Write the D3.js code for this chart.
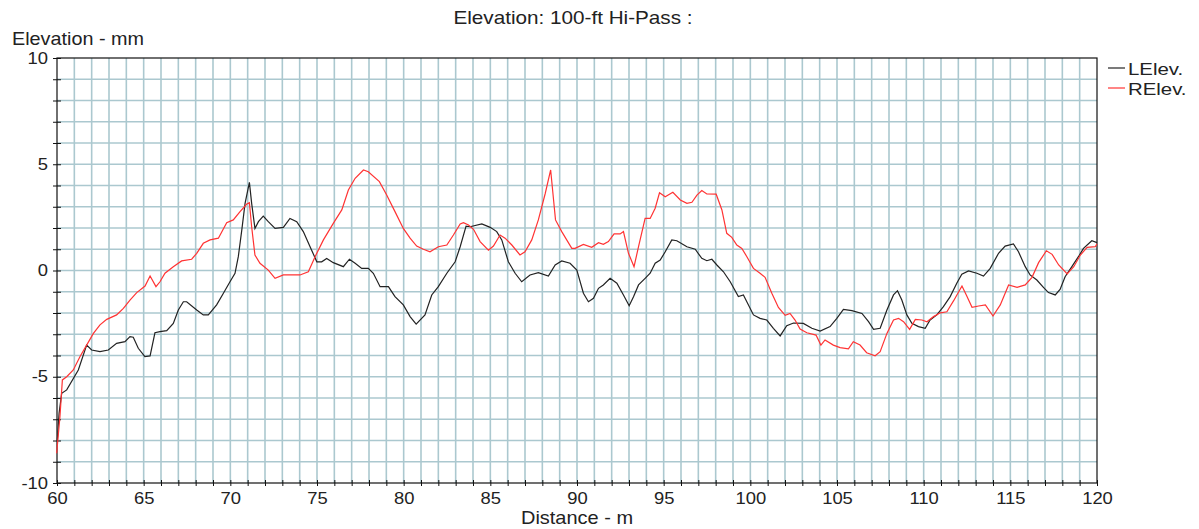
<!DOCTYPE html>
<html>
<head>
<meta charset="utf-8">
<script src="https://cdn.jsdelivr.net/npm/d3@7"></script>
<style>
    body { margin: 0; background: #fff; }
    text { font-family: "Liberation Sans", Arial, sans-serif; fill: #222; }
</style>
</head>
<body>
<script>
// LElev series
const leftDist = [60.0, 60.02, 60.12, 60.27, 60.56, 61.23, 61.71, 62.0, 62.48, 62.96, 63.44, 63.92, 64.21, 64.4, 64.69, 65.07, 65.37, 65.65, 65.94, 66.33, 66.71, 67.0, 67.29, 67.48, 68.06, 68.44, 68.73, 69.21, 69.6, 69.98, 70.27, 70.46, 70.66, 70.85, 71.1, 71.23, 71.42, 71.62, 71.9, 72.19, 72.58, 73.06, 73.44, 73.83, 74.21, 74.6, 74.99, 75.27, 75.56, 75.94, 76.52, 76.87, 77.2, 77.58, 77.96, 78.25, 78.64, 79.12, 79.5, 79.98, 80.37, 80.72, 81.23, 81.62, 82.0, 82.49, 82.97, 83.26, 83.6, 83.83, 84.51, 84.99, 85.37, 85.66, 86.04, 86.43, 86.81, 87.29, 87.77, 88.35, 88.74, 89.12, 89.6, 89.99, 90.37, 90.66, 90.95, 91.24, 91.52, 91.91, 92.3, 92.68, 93.01, 93.26, 93.55, 93.93, 94.22, 94.51, 94.8, 95.09, 95.47, 95.76, 96.34, 96.82, 97.2, 97.49, 97.78, 98.07, 98.45, 98.84, 99.31, 99.6, 100.18, 100.56, 100.95, 101.33, 101.72, 102.1, 102.49, 103.06, 103.55, 104.03, 104.6, 104.99, 105.37, 105.86, 106.44, 106.82, 107.11, 107.49, 107.88, 108.26, 108.49, 108.74, 109.03, 109.32, 109.7, 110.09, 110.37, 110.76, 111.14, 111.53, 111.91, 112.2, 112.59, 113.07, 113.45, 113.84, 114.32, 114.7, 115.18, 115.47, 115.86, 116.14, 116.53, 116.91, 117.2, 117.59, 117.87, 118.16, 118.55, 118.93, 119.22, 119.7, 120.0];
const leftElev = [-8.0, -7.98, -6.72, -5.78, -5.62, -4.68, -3.51, -3.74, -3.82, -3.74, -3.43, -3.35, -3.11, -3.14, -3.66, -4.05, -4.02, -2.93, -2.88, -2.83, -2.49, -1.86, -1.47, -1.47, -1.86, -2.09, -2.09, -1.62, -1.07, -0.53, -0.13, 0.65, 1.9, 3.16, 4.15, 3.16, 1.98, 2.3, 2.56, 2.3, 1.98, 2.03, 2.45, 2.3, 1.83, 1.12, 0.41, 0.41, 0.57, 0.37, 0.18, 0.53, 0.34, 0.1, 0.1, -0.13, -0.76, -0.76, -1.23, -1.62, -2.17, -2.52, -2.09, -1.15, -0.76, -0.13, 0.41, 1.12, 2.09, 2.06, 2.19, 2.03, 1.83, 1.44, 0.41, -0.13, -0.53, -0.21, -0.1, -0.26, 0.26, 0.45, 0.34, 0.02, -1.07, -1.47, -1.31, -0.84, -0.68, -0.37, -0.6, -1.15, -1.66, -1.23, -0.68, -0.37, -0.13, 0.34, 0.49, 0.88, 1.44, 1.4, 1.12, 1.0, 0.57, 0.46, 0.53, 0.26, -0.06, -0.53, -1.23, -1.15, -2.09, -2.25, -2.33, -2.72, -3.08, -2.6, -2.47, -2.49, -2.72, -2.85, -2.64, -2.25, -1.83, -1.89, -2.02, -2.41, -2.77, -2.72, -1.86, -1.15, -0.95, -1.39, -2.09, -2.49, -2.64, -2.72, -2.33, -2.09, -1.7, -1.23, -0.6, -0.17, -0.02, -0.13, -0.26, 0.1, 0.81, 1.15, 1.25, 0.88, 0.18, -0.21, -0.45, -0.79, -1.04, -1.15, -0.89, -0.29, 0.18, 0.65, 1.04, 1.4, 1.31];

// RElev series
const rightDist = [59.98, 60.17, 60.31, 60.56, 60.94, 61.33, 61.71, 62.1, 62.48, 62.87, 63.44, 63.83, 64.21, 64.6, 65.08, 65.37, 65.71, 65.94, 66.23, 66.71, 67.19, 67.77, 68.06, 68.44, 68.83, 69.31, 69.79, 70.17, 70.56, 70.95, 71.1, 71.23, 71.42, 71.71, 72.19, 72.58, 73.06, 74.02, 74.5, 74.89, 75.37, 75.94, 76.43, 76.81, 77.2, 77.68, 77.96, 78.6, 79.02, 79.5, 79.98, 80.37, 80.75, 81.14, 81.52, 82.0, 82.49, 82.87, 83.26, 83.45, 83.74, 84.03, 84.41, 84.89, 85.18, 85.56, 85.85, 86.24, 86.71, 87.0, 87.39, 87.77, 88.16, 88.48, 88.76, 89.12, 89.7, 89.89, 90.37, 90.85, 91.24, 91.52, 91.81, 92.14, 92.49, 92.68, 92.97, 93.29, 93.55, 93.93, 94.22, 94.51, 94.76, 95.09, 95.53, 95.96, 96.34, 96.63, 96.92, 97.2, 97.49, 98.03, 98.36, 98.64, 98.93, 99.22, 99.51, 99.8, 100.18, 100.56, 100.85, 101.24, 101.62, 102.01, 102.29, 102.58, 102.87, 103.26, 103.79, 104.07, 104.31, 104.79, 105.18, 105.66, 105.94, 106.33, 106.71, 107.2, 107.49, 107.88, 108.26, 108.55, 108.84, 109.19, 109.52, 109.9, 110.19, 110.57, 110.96, 111.34, 111.73, 112.21, 112.46, 112.79, 113.17, 113.56, 114.0, 114.42, 114.9, 115.39, 115.86, 116.25, 116.63, 117.08, 117.41, 117.79, 118.28, 118.66, 119.04, 119.43, 119.9, 120.0];
const rightElev = [-8.6, -6.88, -5.15, -5.0, -4.68, -4.05, -3.51, -2.96, -2.56, -2.3, -2.09, -1.78, -1.39, -1.04, -0.73, -0.26, -0.76, -0.53, -0.13, 0.18, 0.45, 0.53, 0.81, 1.28, 1.44, 1.52, 2.25, 2.38, 2.77, 3.13, 3.19, 2.06, 0.73, 0.34, 0.02, -0.37, -0.21, -0.21, -0.06, 0.65, 1.44, 2.22, 2.85, 3.79, 4.34, 4.73, 4.65, 4.18, 3.55, 2.77, 1.98, 1.52, 1.15, 1.0, 0.88, 1.12, 1.2, 1.67, 2.19, 2.25, 2.14, 1.94, 1.36, 0.96, 1.15, 1.67, 1.52, 1.2, 0.73, 0.88, 1.44, 2.38, 3.6, 4.73, 2.38, 1.83, 1.04, 1.04, 1.23, 1.09, 1.31, 1.23, 1.36, 1.72, 1.72, 1.83, 0.81, 0.18, 1.12, 2.45, 2.45, 2.93, 3.66, 3.47, 3.68, 3.32, 3.16, 3.21, 3.55, 3.76, 3.6, 3.59, 2.85, 1.75, 1.56, 1.2, 1.04, 0.65, 0.1, -0.13, -0.32, -1.07, -1.74, -2.11, -2.02, -2.33, -2.76, -2.93, -3.04, -3.51, -3.27, -3.51, -3.63, -3.69, -3.35, -3.51, -3.87, -4.01, -3.82, -2.96, -2.33, -2.25, -2.41, -2.77, -2.3, -2.33, -2.41, -2.17, -1.99, -1.94, -1.42, -0.73, -1.15, -1.73, -1.67, -1.62, -2.14, -1.62, -0.68, -0.79, -0.68, -0.32, 0.37, 0.93, 0.76, 0.26, -0.16, 0.18, 0.73, 1.09, 1.12, 1.25];

const seriesNames = ["LElev.", "RElev."];
const seriesColours = ["#222222", "#ff3333"];
const xTicks = [60, 65, 70, 75, 80, 85, 90, 95, 100, 105, 110, 115, 120];
const yTicks = [-10, -5, 0, 5, 10];

const width = 1199, height = 529;
const margin = {left: 57, top: 58, right: 1097, bottom: 483};
const stretch = 1.15; // text in the original is a bit wide

const x = d3.scaleLinear().domain([60, 120]).range([margin.left, margin.right]);
const y = d3.scaleLinear().domain([-10, 10]).range([margin.bottom, margin.top]);

const svg = d3.select("body")
    .append("svg")
    .attr("width", width)
    .attr("height", height);

function addLabel(parent, px, py, str, size, anchor, sx){
    return parent.append("g")
        .attr("transform", `translate(${px}, ${py})`)
        .append("text")
        .attr("transform", `scale(${sx}, 1)`)
        .attr("text-anchor", anchor)
        .style("font-size", size + "px")
        .text(str);
}

// grid
const grid = svg.append("g").attr("stroke", "#abc8cf").attr("stroke-width", 1.6);
grid.selectAll("line.v")
    .data(d3.range(61, 120))
    .enter()
    .append("line")
    .attr("x1", d => x(d)).attr("x2", d => x(d))
    .attr("y1", margin.top).attr("y2", margin.bottom);
grid.selectAll("line.h")
    .data(d3.range(-9, 10))
    .enter()
    .append("line")
    .attr("x1", margin.left).attr("x2", margin.right)
    .attr("y1", d => y(d)).attr("y2", d => y(d));

// frame
svg.append("rect")
    .attr("x", margin.left).attr("y", margin.top)
    .attr("width", margin.right - margin.left)
    .attr("height", margin.bottom - margin.top)
    .attr("fill", "none")
    .attr("stroke", "#111")
    .attr("stroke-width", 1.2);

// axes
const xAxis = d3.axisBottom(x)
    .tickValues(d3.range(60, 121))
    .tickSize(3)
    .tickFormat(d => xTicks.includes(d) ? d : "");
const xg = svg.append("g")
    .attr("transform", `translate(0, ${margin.bottom})`)
    .call(xAxis);
xg.select(".domain").remove();
xg.selectAll(".tick line").attr("y1", -3).attr("stroke", "#111");
xg.selectAll(".tick text")
    .attr("dy", "0.71em")
    .attr("y", 10)
    .attr("transform", `scale(${stretch}, 1)`)
    .style("font-size", "16px")
    .style("font-family", "'Liberation Sans', Arial, sans-serif")
    .attr("fill", "#222");

const yAxis = d3.axisLeft(y)
    .tickValues(d3.range(-10, 11))
    .tickSize(4)
    .tickFormat(d => yTicks.includes(d) ? d : "");
const yg = svg.append("g")
    .attr("transform", `translate(${margin.left}, 0)`)
    .call(yAxis);
yg.select(".domain").remove();
yg.selectAll(".tick line").attr("x1", -4).attr("x2", 4).attr("stroke", "#111");
yg.selectAll(".tick text")
    .attr("x", -9 / stretch)
    .attr("transform", `scale(${stretch}, 1)`)
    .style("font-size", "16px")
    .style("font-family", "'Liberation Sans', Arial, sans-serif")
    .attr("fill", "#222");

// lines
const line = d3.line()
    .x(d => x(d[0]))
    .y(d => y(d[1]));

const series = [
    d3.zip(leftDist, leftElev),
    d3.zip(rightDist, rightElev)
];

svg.append("path")
    .datum(series[0])
    .attr("d", line)
    .attr("fill", "none")
    .attr("stroke", seriesColours[0])
    .attr("stroke-width", 1.2);
svg.append("path")
    .datum(series[1])
    .attr("d", line)
    .attr("fill", "none")
    .attr("stroke", seriesColours[1])
    .attr("stroke-width", 1.2);

// titles
addLabel(svg, 573, 24, "Elevation: 100-ft Hi-Pass :", 18, "middle", 1.15);
addLabel(svg, 12, 45, "Elevation - mm", 18, "start", 1.1);
addLabel(svg, 577, 524, "Distance - m", 18, "middle", 1.11);

// legend
const legend = svg.append("g")
    .selectAll("g")
    .data(seriesNames)
    .enter()
    .append("g")
    .attr("transform", (d, i) => `translate(1108, ${68 + i * 20})`);
legend.append("line")
    .attr("x1", 0).attr("x2", 17)
    .attr("stroke", (d, i) => seriesColours[i])
    .attr("stroke-width", 1.2);
legend.each(function(d){
    addLabel(d3.select(this), 20, 7, d, 17, "start", 1.2);
});
</script>
</body>
</html>
